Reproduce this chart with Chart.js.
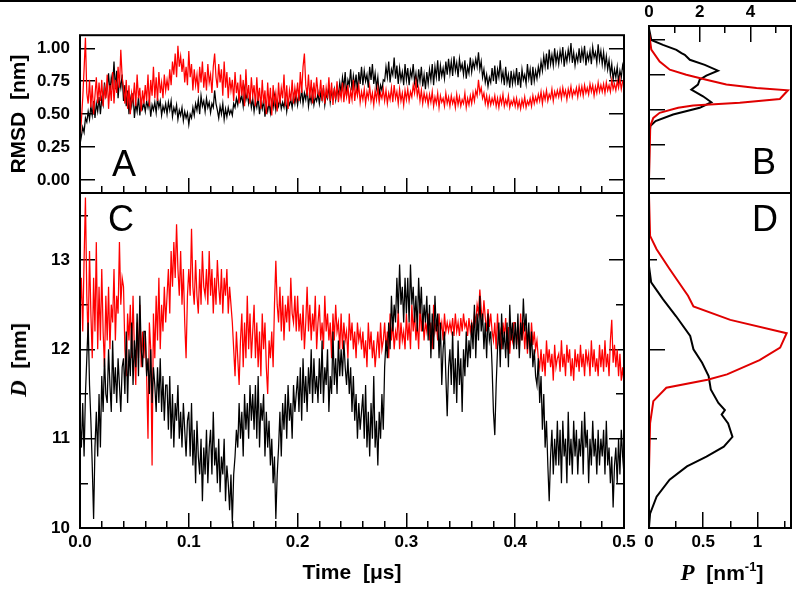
<!DOCTYPE html>
<html>
<head>
<meta charset="utf-8">
<script src="https://cdn.jsdelivr.net/npm/chart.js@4.4.1/dist/chart.umd.min.js"></script>
<style>
  body { margin: 0; background: #fff; }
  #fig { position: relative; width: 796px; height: 591px; overflow: hidden; background: #fff; }
  #fig canvas { position: absolute; left: 0; top: 0; }
  .topline { position: absolute; left: 0; top: 0; width: 796px; height: 2px; background: #000; }
  .panel { position: absolute; font: 36px 'Liberation Sans', Arial, sans-serif; line-height: 36px; color: #000; }
  .title { position: absolute; font: bold 21px 'Liberation Sans', Arial, sans-serif; white-space: pre; color: #000; }
  .rot { transform: translate(-50%, -50%) rotate(-90deg); }
  .mid { transform: translate(-50%, -50%); }
  .it { font-family: 'Liberation Serif', 'Times New Roman', serif; font-style: italic; font-weight: bold; font-size: 23px; }
  sup { font-size: 13px; vertical-align: 9px; line-height: 0; }
</style>
</head>
<body>
<div id="fig">
  <div class="topline"></div>
  <canvas id="chartA" width="796" height="591"></canvas>
  <canvas id="chartC" width="796" height="591"></canvas>
  <canvas id="chartB" width="796" height="591"></canvas>
  <canvas id="chartD" width="796" height="591"></canvas>
  <div class="panel" style="left:112px; top:146px">A</div>
  <div class="panel" style="left:752px; top:144px">B</div>
  <div class="panel" style="left:108px; top:201px">C</div>
  <div class="panel" style="left:752px; top:201px">D</div>
  <div class="title rot" style="left:19px; top:360px"><span class="it">D</span>  [nm]</div>
  <div class="title mid" style="left:722px; top:573px"><span class="it">P</span>  [nm<sup>-1</sup>]</div>
</div>
<script>
// time traces, one value every 0.00125 us (16 values per 0.02 us)
const timeStep = 0.00125;
const rmsdBlack = [
  0.27, 0.33, 0.40, 0.36, 0.47, 0.44, 0.52, 0.46, 0.56, 0.49, 0.60, 0.47, 0.58, 0.52, 0.63, 0.50,
  0.62, 0.57, 0.74, 0.64, 0.70, 0.81, 0.66, 0.78, 0.72, 0.90, 0.69, 0.83, 0.62, 0.76, 0.70, 0.80,
  0.60, 0.72, 0.56, 0.68, 0.50, 0.62, 0.56, 0.66, 0.47, 0.58, 0.52, 0.63, 0.49, 0.60, 0.54, 0.58,
  0.52, 0.60, 0.55, 0.61, 0.48, 0.57, 0.53, 0.59, 0.51, 0.62, 0.55, 0.60, 0.49, 0.56, 0.52, 0.58,
  0.50, 0.59, 0.53, 0.60, 0.48, 0.55, 0.51, 0.57, 0.46, 0.53, 0.49, 0.55, 0.45, 0.52, 0.47, 0.51,
  0.42, 0.50, 0.47, 0.55, 0.49, 0.58, 0.53, 0.61, 0.50, 0.64, 0.56, 0.60, 0.52, 0.62, 0.55, 0.59,
  0.51, 0.58, 0.55, 0.68, 0.58, 0.53, 0.47, 0.56, 0.50, 0.58, 0.46, 0.54, 0.48, 0.55, 0.50, 0.53,
  0.49, 0.58, 0.55, 0.62, 0.57, 0.66, 0.60, 0.64, 0.56, 0.69, 0.61, 0.66, 0.58, 0.64, 0.55, 0.62,
  0.52, 0.60, 0.55, 0.63, 0.50, 0.59, 0.54, 0.61, 0.48, 0.57, 0.52, 0.59, 0.51, 0.60, 0.55, 0.64,
  0.53, 0.60, 0.56, 0.62, 0.54, 0.59, 0.55, 0.63, 0.52, 0.60, 0.57, 0.61, 0.55, 0.64, 0.58, 0.66,
  0.57, 0.65, 0.60, 0.69, 0.58, 0.66, 0.61, 0.70, 0.56, 0.64, 0.59, 0.67, 0.57, 0.63, 0.60, 0.66,
  0.58, 0.66, 0.61, 0.70, 0.57, 0.65, 0.62, 0.72, 0.59, 0.67, 0.63, 0.69, 0.61, 0.70, 0.64, 0.74,
  0.66, 0.78, 0.70, 0.82, 0.64, 0.76, 0.72, 0.84, 0.68, 0.79, 0.71, 0.80, 0.67, 0.82, 0.73, 0.86,
  0.72, 0.83, 0.75, 0.80, 0.70, 0.86, 0.76, 0.88, 0.73, 0.81, 0.70, 0.78, 0.64, 0.72, 0.68, 0.76,
  0.75, 0.86, 0.78, 0.90, 0.74, 0.84, 0.80, 0.93, 0.77, 0.87, 0.73, 0.85, 0.76, 0.82, 0.72, 0.88,
  0.76, 0.85, 0.72, 0.83, 0.78, 0.88, 0.74, 0.81, 0.70, 0.84, 0.75, 0.86, 0.71, 0.80, 0.69, 0.82,
  0.73, 0.84, 0.76, 0.88, 0.72, 0.86, 0.78, 0.91, 0.75, 0.87, 0.79, 0.85, 0.77, 0.90, 0.80, 0.92,
  0.81, 0.90, 0.79, 0.94, 0.83, 0.89, 0.78, 0.92, 0.84, 0.88, 0.80, 0.91, 0.77, 0.86, 0.81, 0.93,
  0.82, 0.90, 0.85, 0.92, 0.86, 0.97, 0.84, 0.90, 0.78, 0.84, 0.74, 0.80, 0.71, 0.78, 0.74, 0.85,
  0.75, 0.87, 0.73, 0.84, 0.78, 0.91, 0.76, 0.82, 0.72, 0.86, 0.74, 0.80, 0.70, 0.83, 0.73, 0.81,
  0.74, 0.85, 0.72, 0.82, 0.70, 0.84, 0.76, 0.80, 0.73, 0.88, 0.77, 0.84, 0.72, 0.86, 0.75, 0.83,
  0.77, 0.86, 0.80, 0.90, 0.83, 0.94, 0.86, 0.96, 0.84, 0.99, 0.88, 0.95, 0.87, 1.00, 0.89, 0.96,
  0.88, 0.98, 0.91, 1.01, 0.86, 0.96, 0.90, 0.99, 0.92, 1.04, 0.89, 0.97, 0.87, 0.95, 0.90, 1.00,
  0.89, 0.99, 0.92, 1.02, 0.87, 0.96, 0.91, 0.98, 0.88, 1.01, 0.93, 0.97, 0.89, 1.03, 0.91, 0.98,
  0.88, 0.97, 0.86, 0.94, 0.84, 0.91, 0.80, 0.88, 0.76, 0.84, 0.78, 0.86, 0.74, 0.83, 0.78, 0.87,
  0.82
];
const rmsdRed = [
  0.30, 0.45, 0.62, 0.84, 1.08, 0.66, 0.58, 0.76, 0.55, 0.72, 0.50, 0.64, 0.78, 0.58, 0.74, 0.60,
  0.76, 0.56, 0.70, 0.62, 0.80, 0.54, 0.72, 0.60, 0.82, 0.58, 0.76, 0.66, 0.86, 0.70, 0.99, 0.78,
  0.70, 0.58, 0.76, 0.54, 0.72, 0.50, 0.66, 0.60, 0.74, 0.56, 0.80, 0.62, 0.70, 0.52, 0.68, 0.58,
  0.72, 0.60, 0.80, 0.56, 0.76, 0.64, 0.86, 0.62, 0.78, 0.60, 0.82, 0.66, 0.74, 0.62, 0.80, 0.68,
  0.76, 0.68, 0.84, 0.72, 0.90, 0.80, 0.96, 0.78, 1.02, 0.86, 0.94, 0.82, 0.92, 0.74, 0.86, 0.72,
  0.98, 0.78, 0.88, 0.68, 0.84, 0.72, 0.80, 0.66, 0.86, 0.74, 0.90, 0.70, 0.82, 0.68, 0.88, 0.74,
  0.80, 0.66, 0.86, 0.96, 0.78, 0.70, 0.88, 0.74, 0.84, 0.64, 0.90, 0.70, 0.82, 0.62, 0.78, 0.68,
  0.76, 0.60, 0.82, 0.66, 0.74, 0.58, 0.80, 0.64, 0.76, 0.56, 0.84, 0.62, 0.72, 0.58, 0.78, 0.64,
  0.72, 0.56, 0.78, 0.60, 0.70, 0.54, 0.76, 0.58, 0.68, 0.50, 0.74, 0.56, 0.70, 0.49, 0.72, 0.58,
  0.66, 0.52, 0.74, 0.58, 0.70, 0.62, 0.80, 0.56, 0.72, 0.54, 0.68, 0.60, 0.76, 0.58, 0.70, 0.62,
  0.74, 0.60, 0.82, 0.66, 0.86, 0.96, 0.72, 0.64, 0.80, 0.62, 0.76, 0.58, 0.74, 0.62, 0.78, 0.66,
  0.64, 0.76, 0.60, 0.72, 0.58, 0.70, 0.62, 0.78, 0.60, 0.74, 0.57, 0.70, 0.61, 0.75, 0.59, 0.68,
  0.62, 0.74, 0.59, 0.70, 0.63, 0.72, 0.58, 0.68, 0.61, 0.76, 0.60, 0.70, 0.64, 0.72, 0.59, 0.67,
  0.61, 0.69, 0.58, 0.67, 0.62, 0.71, 0.60, 0.66, 0.57, 0.68, 0.61, 0.70, 0.59, 0.66, 0.62, 0.69,
  0.60, 0.68, 0.58, 0.66, 0.61, 0.70, 0.59, 0.72, 0.62, 0.67, 0.58, 0.69, 0.60, 0.66, 0.57, 0.68,
  0.61, 0.69, 0.60, 0.67, 0.63, 0.72, 0.66, 0.75, 0.64, 0.70, 0.60, 0.68, 0.58, 0.66, 0.60, 0.65,
  0.57, 0.65, 0.59, 0.67, 0.56, 0.63, 0.58, 0.66, 0.55, 0.64, 0.59, 0.62, 0.56, 0.66, 0.58, 0.63,
  0.56, 0.64, 0.58, 0.62, 0.55, 0.65, 0.57, 0.63, 0.56, 0.61, 0.58, 0.66, 0.55, 0.62, 0.57, 0.64,
  0.58, 0.66, 0.60, 0.68, 0.64, 0.76, 0.66, 0.70, 0.62, 0.66, 0.58, 0.64, 0.56, 0.63, 0.57, 0.62,
  0.58, 0.64, 0.56, 0.62, 0.55, 0.63, 0.58, 0.65, 0.56, 0.61, 0.57, 0.64, 0.55, 0.60, 0.57, 0.62,
  0.56, 0.62, 0.55, 0.60, 0.54, 0.61, 0.56, 0.63, 0.55, 0.60, 0.57, 0.62, 0.56, 0.64, 0.58, 0.63,
  0.59, 0.65, 0.60, 0.67, 0.58, 0.66, 0.61, 0.68, 0.60, 0.65, 0.62, 0.69, 0.60, 0.67, 0.63, 0.68,
  0.63, 0.69, 0.62, 0.70, 0.64, 0.68, 0.61, 0.69, 0.64, 0.71, 0.63, 0.68, 0.65, 0.70, 0.63, 0.71,
  0.65, 0.71, 0.64, 0.72, 0.66, 0.70, 0.65, 0.73, 0.67, 0.72, 0.64, 0.71, 0.66, 0.74, 0.67, 0.72,
  0.67, 0.73, 0.66, 0.74, 0.68, 0.72, 0.67, 0.76, 0.69, 0.73, 0.68, 0.75, 0.70, 0.77, 0.69, 0.75,
  0.74
];
const distRed = [
  12.4, 12.8, 12.2, 13.0, 13.7, 12.6, 12.1, 13.1, 12.4, 11.9, 12.8, 12.2, 13.2, 12.0, 12.7, 12.1,
  12.9, 12.2, 11.8, 12.6, 12.1, 12.7, 12.0, 12.5, 12.3, 12.9, 12.1, 12.6, 12.4, 13.2, 12.5, 12.8,
  12.7, 12.0, 11.7, 12.4, 12.1, 12.5, 11.9, 12.6, 12.0, 11.6, 12.3, 11.9, 12.5, 11.8, 12.2, 11.9,
  12.2, 11.7, 11.0, 12.3, 12.0, 10.7, 12.4, 11.9, 12.6, 12.1, 12.8, 12.0, 12.5, 12.2, 12.7, 12.3,
  12.6, 12.9, 12.4, 13.1, 12.7, 13.2, 12.8, 13.4, 12.9, 12.6, 13.1, 12.5, 12.9, 12.3, 11.9, 12.6,
  12.9, 12.6, 13.35, 12.7, 12.5, 13.0, 12.6, 12.4, 12.9, 12.5, 13.1, 12.7, 12.6, 12.9, 12.5, 13.1,
  12.6, 12.9, 12.4, 12.8, 12.5, 13.0, 12.7, 12.5, 12.9, 12.4, 12.8, 12.6, 12.9, 12.4, 12.7, 12.5,
  12.3, 12.0, 11.7, 12.2, 11.9, 11.6, 12.1, 12.4, 11.8, 12.3, 11.9, 12.6, 12.0, 12.4, 11.9, 12.2,
  12.5, 11.9, 12.3, 11.8, 12.2, 11.7, 12.4, 12.0, 12.3, 11.8, 11.5, 12.1, 11.9, 12.2, 11.8, 12.5,
  12.99, 12.5, 12.3, 12.7, 12.2, 12.6, 12.1, 12.5, 12.3, 12.6, 12.2, 12.8, 12.4, 12.3, 12.6, 12.2,
  12.6, 12.2, 12.4, 12.1, 12.5, 12.0, 12.3, 12.7, 12.2, 12.5, 12.1, 12.4, 12.2, 12.6, 12.0, 12.3,
  12.5, 12.1, 12.3, 12.0, 12.6, 12.2, 12.4, 12.1, 12.3, 11.9, 12.4, 12.1, 12.5, 12.2, 12.3, 12.0,
  12.4, 12.0, 12.3, 12.1, 12.2, 11.9, 12.4, 12.1, 12.3, 12.0, 12.2, 11.9, 12.3, 12.1, 12.2, 12.0,
  12.2, 11.9, 12.1, 11.8, 12.3, 12.0, 12.2, 11.9, 12.1, 11.8, 12.0, 12.2, 11.9, 12.3, 12.0, 12.1,
  12.3, 12.0, 12.2, 11.9, 12.4, 12.1, 12.3, 12.0, 12.2, 12.1, 12.44, 12.0, 12.3, 12.1, 12.2, 12.0,
  12.4, 12.1, 12.3, 12.0, 12.5, 12.2, 12.4, 12.1, 12.3, 12.0, 12.5, 12.2, 12.4, 12.1, 12.3, 12.2,
  12.4, 12.1, 12.3, 12.0, 12.5, 12.2, 12.3, 12.1, 12.4, 12.2, 12.3, 12.1, 12.4, 12.2, 12.3, 12.2,
  12.3, 12.2, 12.35, 12.15, 12.4, 12.2, 12.3, 12.15, 12.35, 12.2, 12.4, 12.25, 12.3, 12.15, 12.35, 12.2,
  12.3, 12.2, 12.4, 12.3, 12.5, 12.4, 12.67, 12.45, 12.3, 12.55, 12.35, 12.2, 12.45, 12.25, 12.4, 12.2,
  12.1, 12.3, 12.0, 12.4, 12.1, 12.2, 12.0, 12.3, 12.15, 12.35, 12.0, 12.25, 11.95, 12.2, 12.1, 12.3,
  12.3, 12.05, 12.2, 12.0, 12.4, 12.1, 12.3, 12.0, 12.25, 11.95, 12.2, 12.0, 12.3, 12.05, 12.2, 12.0,
  12.1, 11.9, 11.8, 12.0, 11.75, 11.95, 11.7, 12.1, 11.85, 12.0, 11.8, 11.95, 11.65, 12.05, 11.8, 11.9,
  11.95, 11.75, 12.1, 11.8, 11.95, 11.7, 12.05, 11.85, 12.0, 11.7, 11.9, 11.65, 12.0, 11.8, 11.95, 11.75,
  12.05, 11.8, 11.95, 11.7, 12.0, 11.85, 11.95, 11.7, 12.1, 11.8, 12.0, 11.75, 11.9, 11.7, 12.05, 11.8,
  12.0, 11.75, 12.1, 11.8, 11.95, 11.7, 12.1, 12.33, 11.85, 12.05, 11.8, 12.0, 11.7, 11.95, 11.65, 11.8,
  11.6
];
const distBlack = [
  11.2, 10.9, 11.4, 10.8, 11.5, 11.9, 12.3, 11.6, 11.2, 10.7, 10.1, 10.9, 11.3, 10.8, 11.5, 10.9,
  11.7, 11.3, 11.9, 11.5, 11.4, 12.0, 11.6, 11.3, 12.1, 11.5, 11.8, 11.4, 11.9, 11.6, 11.3, 11.8,
  11.9, 11.5, 12.2, 11.4, 12.0, 11.7, 12.3, 11.6, 12.1, 11.8, 12.4, 11.7, 12.6, 12.0, 11.8, 12.2,
  12.2, 11.7, 11.9, 11.5, 12.0, 11.4, 11.8, 11.6, 11.3, 11.8, 11.4, 11.9, 11.3, 11.7, 11.2, 11.6,
  11.6, 11.1, 11.7, 11.0, 11.5, 10.9, 11.4, 11.2, 11.6, 11.0, 11.3, 10.9, 11.4, 11.1, 10.8, 11.2,
  11.3, 10.8, 11.4, 10.7, 11.1, 10.5, 11.2, 10.8, 10.6, 11.0, 10.3, 10.9, 10.6, 11.1, 10.5, 10.9,
  11.1, 10.6, 11.3, 10.7, 10.9, 10.5, 11.0, 10.4, 10.8, 10.6, 11.0, 10.3, 10.7, 10.5, 10.2, 10.6,
  10.05, 10.6, 10.8, 11.1, 10.9, 11.4, 11.0, 11.3, 10.8, 11.5, 11.1, 11.4, 11.0, 11.6, 11.2, 11.5,
  11.1, 11.6, 11.0, 11.7, 10.9, 11.4, 11.2, 11.5, 10.8, 11.3, 10.9, 11.2, 10.7, 11.0, 10.5, 10.8,
  10.1, 10.6, 10.9, 11.3, 10.8, 11.4, 11.1, 11.5, 11.0, 11.6, 11.2, 11.4, 11.0, 11.6, 11.3, 11.5,
  11.7, 11.3, 11.8, 11.2, 11.9, 11.4, 11.7, 11.3, 11.8, 11.5, 12.0, 11.4, 11.9, 11.5, 11.7, 11.4,
  11.9, 11.5, 12.1, 11.4, 11.8, 11.6, 12.0, 11.3, 11.7, 11.5, 12.2, 11.6, 11.9, 11.5, 12.1, 11.7,
  12.0, 11.7, 12.1, 11.8, 11.6, 11.9, 11.5, 11.8, 11.3, 11.7, 11.2, 11.5, 11.0, 11.4, 11.1, 11.3,
  11.5, 11.0, 11.6, 10.9, 11.3, 10.8, 11.4, 11.0, 11.7, 10.9, 11.2, 10.7, 11.3, 11.0, 11.5, 11.1,
  11.8, 12.1, 11.9, 12.3, 12.0, 12.6, 12.2, 12.5, 12.3, 12.8, 12.4, 12.95, 12.5, 12.7, 12.3, 12.8,
  12.4, 12.8, 12.3, 12.95, 12.5, 12.7, 12.3, 12.6, 12.2, 12.8, 12.4, 12.7, 12.2, 12.5, 12.3, 12.6,
  12.1, 12.5, 11.9, 12.4, 12.0, 12.6, 12.2, 12.4, 11.9, 12.3, 11.6, 12.0, 12.2, 11.7, 11.25, 11.8,
  12.0, 11.6, 12.2, 11.5, 11.9, 11.4, 12.1, 11.6, 11.9, 11.3, 12.0, 11.7, 12.2, 11.8, 12.1, 11.9,
  12.3, 12.0, 12.5, 11.9, 12.4, 12.1, 12.6, 12.2, 12.4, 12.0, 12.3, 11.9, 12.4, 12.1, 12.2, 11.8,
  11.3, 11.04, 11.6, 12.0, 12.3, 11.8, 12.4, 12.0, 12.2, 11.9, 12.3, 11.8, 12.5, 12.1, 12.3, 12.0,
  12.3, 12.0, 12.4, 11.9, 12.3, 12.1, 12.57, 12.2, 12.4, 12.0, 12.3, 11.9, 12.2, 11.8, 12.0, 11.7,
  11.6, 11.9, 11.4, 11.7, 11.1, 11.5, 10.9, 11.2, 10.7, 10.3, 10.8, 11.1, 10.6, 11.0, 10.7, 11.2,
  10.7, 11.1, 10.5, 11.2, 10.8, 11.0, 10.5, 11.3, 10.7, 11.0, 10.6, 11.2, 10.8, 11.1, 10.6, 11.0,
  10.8, 11.2, 10.6, 11.3, 10.9, 11.1, 10.5, 11.0, 10.7, 11.2, 10.8, 11.0, 10.6, 11.1, 10.7, 11.0,
  10.8, 11.1, 10.6, 11.2, 10.7, 10.9, 10.5, 10.8, 10.23, 10.7, 10.9, 10.5, 11.0, 10.6, 11.1, 10.8,
  10.6
];

// histograms (right panels)
const histRmsdBlackR = [1.083, 1.0, 0.964, 0.929, 0.905, 0.893, 0.857, 0.821, 0.779, 0.743, 0.714, 0.679, 0.643, 0.595, 0.552, 0.512, 0.464, 0.417, 0.381, 0.286, 0.0];
const histRmsdBlackP = [0, 0.09, 0.55, 1.08, 1.28, 1.41, 1.61, 2.2, 2.72, 2.26, 2.0, 1.93, 1.67, 2.13, 2.46, 2.0, 0.95, 0.26, 0.05, 0.01, 0];
const histRmsdRedR = [1.05, 0.93, 0.845, 0.786, 0.75, 0.714, 0.679, 0.655, 0.638, 0.576, 0.548, 0.529, 0.512, 0.476, 0.44, 0.381, 0.0];
const histRmsdRedP = [0, 0.09, 0.42, 0.82, 1.47, 2.26, 3.05, 4.24, 5.48, 5.16, 3.58, 1.74, 1.15, 0.42, 0.17, 0.05, 0];
const histDistRedD = [13.72, 13.27, 13.12, 12.9, 12.67, 12.6, 12.48, 12.33, 12.18, 12.02, 11.88, 11.72, 11.66, 11.57, 11.42, 11.17, 10.65];
const histDistRedP = [0, 0.01, 0.07, 0.19, 0.32, 0.36, 0.41, 0.75, 1.27, 1.21, 1.02, 0.72, 0.54, 0.16, 0.04, 0.01, 0];
const histDistBlackD = [12.93, 12.75, 12.56, 12.37, 12.15, 12.0, 11.85, 11.7, 11.55, 11.4, 11.32, 11.27, 11.17, 11.02, 10.91, 10.8, 10.69, 10.54, 10.35, 10.16, 10.01];
const histDistBlackP = [0, 0.02, 0.13, 0.25, 0.38, 0.41, 0.49, 0.55, 0.57, 0.64, 0.70, 0.67, 0.73, 0.77, 0.69, 0.53, 0.35, 0.19, 0.07, 0.01, 0];

// tick positions
const timeTicks = [0, 0.1, 0.2, 0.3, 0.4, 0.5];
const timeMinor = [0.02, 0.04, 0.06, 0.08, 0.12, 0.14, 0.16, 0.18, 0.22, 0.24, 0.26, 0.28, 0.32, 0.34, 0.36, 0.38, 0.42, 0.44, 0.46, 0.48];
const rmsdTicks = [0, 0.25, 0.5, 0.75, 1.0];
const distTicks = [10, 11, 12, 13];
const distMinor = [10.5, 11.5, 12.5, 13.5];
const pRmsdTicks = [0, 2, 4];
const pRmsdMinor = [1, 3, 5];
const pDistTicks = [0, 0.5, 1];
const pDistMinor = [0.25, 0.75, 1.25];
const histDistTicks = [10, 12];
const histDistMinor = [11, 13];

const tickFont = { family: "'Liberation Sans', Arial, sans-serif", size: 17, weight: 'bold' };
const titleFont = { family: "'Liberation Sans', Arial, sans-serif", size: 21, weight: 'bold' };

// inward tick marks: negative tickLength, size forced in afterFit
function tickAxis(position, min, max, values, len, size, weight, fmt, gap) {
  return {
    type: 'linear', position, min, max, bounds: 'data', weight,
    afterBuildTicks: s => { s.ticks = values.map(v => ({ value: v })); },
    afterFit: s => { if (s.isHorizontal()) s.height = size; else s.width = size; },
    border: { display: false },
    grid: { drawOnChartArea: false, drawTicks: true, tickLength: -len, color: '#000', lineWidth: 1.5 },
    ticks: {
      display: !!fmt, callback: fmt || (() => ''), font: tickFont, color: '#000',
      padding: len + (gap || 0), autoSkip: false, maxRotation: 0, minRotation: 0
    },
    title: { display: false }
  };
}

const framePlugin = {
  id: 'frame',
  afterDraw(chart) {
    const { ctx, chartArea: a } = chart;
    ctx.save();
    ctx.strokeStyle = '#000';
    ctx.lineWidth = 2;
    ctx.strokeRect(a.left, a.top, a.right - a.left, a.bottom - a.top);
    ctx.restore();
  }
};

function series(xs, ys, color, width) {
  return {
    data: xs.map((x, i) => ({ x: x, y: ys[i] })),
    showLine: true, borderColor: color, borderWidth: width,
    pointRadius: 0, fill: false, tension: 0
  };
}
const timesOf = arr => arr.map((_, i) => +(i * timeStep).toFixed(5));

function baseOptions(padding, scales) {
  return {
    responsive: false, animation: false, events: [],
    layout: { padding },
    plugins: { legend: { display: false }, tooltip: { enabled: false } },
    scales
  };
}

const f1 = v => v.toFixed(1);
const f2 = v => v.toFixed(2);
const f0 = v => String(v);
const traceWidth = 1.25;

// A: RMSD vs time
const scalesA = {
  xm: tickAxis('bottom', 0, 0.5, timeMinor, 7, 0, 0),
  x: tickAxis('bottom', 0, 0.5, timeTicks, 15, 0, 1),
  y: tickAxis('left', -0.1, 1.1, rmsdTicks, 15, 80, 1, f2, 10),
  yr: tickAxis('right', -0.1, 1.1, rmsdTicks, 15, 0, 1)
};
scalesA.y.title = { display: true, text: 'RMSD  [nm]', font: titleFont, color: '#000', padding: { top: 7, bottom: 0 } };
new Chart(document.getElementById('chartA'), {
  type: 'scatter',
  data: { datasets: [series(timesOf(rmsdRed), rmsdRed, '#ff0000', traceWidth), series(timesOf(rmsdBlack), rmsdBlack, '#000000', traceWidth)] },
  options: baseOptions({ left: 0, top: 26, right: 172, bottom: 398 }, scalesA),
  plugins: [framePlugin]
});

// C: D vs time
const scalesC = {
  xm: tickAxis('bottom', 0, 0.5, timeMinor, 7, 0, 0),
  x: tickAxis('bottom', 0, 0.5, timeTicks, 15, 63, 1, f1, 4),
  ym: tickAxis('left', 10, 13.75, distMinor, 8, 0, 0),
  y: tickAxis('left', 10, 13.75, distTicks, 15, 80, 1, f0, 10),
  yrm: tickAxis('right', 10, 13.75, distMinor, 8, 0, 0),
  yr: tickAxis('right', 10, 13.75, distTicks, 15, 0, 1)
};
scalesC.x.title = { display: true, text: 'Time  [μs]', font: titleFont, color: '#000', padding: { top: 0, bottom: 5 } };
new Chart(document.getElementById('chartC'), {
  type: 'scatter',
  data: { datasets: [series(timesOf(distBlack), distBlack, '#000000', traceWidth), series(timesOf(distRed), distRed, '#ff0000', traceWidth)] },
  options: baseOptions({ left: 0, top: 193, right: 172, bottom: 0 }, scalesC),
  plugins: [framePlugin]
});

// B: RMSD histogram
const scalesB = {
  xm: tickAxis('top', 0, 5.6, pRmsdMinor, 7, 0, 0),
  x: tickAxis('top', 0, 5.6, pRmsdTicks, 16, 26, 1, f0, 3),
  y: tickAxis('left', -0.1, 1.1, rmsdTicks, 16, 0, 1)
};
new Chart(document.getElementById('chartB'), {
  type: 'scatter',
  data: { datasets: [series(histRmsdRedP, histRmsdRedR, '#e00000', 2), series(histRmsdBlackP, histRmsdBlackR, '#000000', 2)] },
  options: baseOptions({ left: 649, top: 0, right: 5, bottom: 398 }, scalesB),
  plugins: [framePlugin]
});

// D: distance histogram
const scalesD = {
  xm: tickAxis('bottom', 0, 1.31, pDistMinor, 7, 0, 0),
  x: tickAxis('bottom', 0, 1.31, pDistTicks, 16, 63, 1, f0, 4),
  ym: tickAxis('left', 10, 13.75, histDistMinor, 8, 0, 0),
  y: tickAxis('left', 10, 13.75, histDistTicks, 16, 0, 1)
};
new Chart(document.getElementById('chartD'), {
  type: 'scatter',
  data: { datasets: [series(histDistRedP, histDistRedD, '#e00000', 2), series(histDistBlackP, histDistBlackD, '#000000', 2)] },
  options: baseOptions({ left: 649, top: 193, right: 5, bottom: 0 }, scalesD),
  plugins: [framePlugin]
});
</script>
</body>
</html>
